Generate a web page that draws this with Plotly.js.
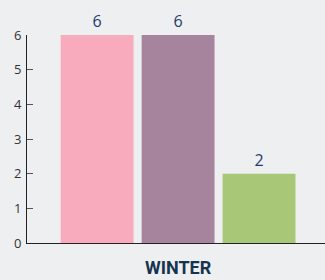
<!DOCTYPE html>
<html><head><meta charset="utf-8">
<script src="https://cdn.plot.ly/plotly-3.0.1.min.js"></script>
<style>html,body{margin:0;padding:0;background:#eeeff1;}#c{width:325px;height:280px;}</style>
</head><body><div id="c"></div>
<script>
const categories = ['WINTER'];
const seriesA = [6];
const seriesB = [6];
const seriesC = [2];
const colors = ['#f7abbc', '#a6849e', '#a8c878'];
const series = [seriesA, seriesB, seriesC];
const traces = series.map((vals, i) => ({
  type: 'bar', x: categories, y: vals, marker: {color: colors[i]},
  text: vals.map(String), textposition: 'outside', cliponaxis: false,
  textfont: {family: 'Open Sans', size: 16, color: '#1f3d6b'}, hoverinfo: 'none'
}));
Plotly.newPlot('c', traces, {
  width: 325, height: 280,
  margin: {l: 27, r: 0, t: 35, b: 37},
  paper_bgcolor: '#eeeff1', plot_bgcolor: '#eeeff1',
  barmode: 'group', bargap: 0.185, bargroupgap: 0.1,
  showlegend: false,
  xaxis: {range: [-0.507, 0.493], showline: true, linecolor: '#222', linewidth: 1, ticks: '', ticklabelstandoff: 8,
    tickfont: {family: 'Roboto', size: 18, color: '#17344f', weight: 'bold'}, fixedrange: true},
  yaxis: {range: [0, 6], dtick: 1, showgrid: false, zeroline: false, showline: true,
    linecolor: '#222', linewidth: 1, ticks: 'inside', ticklen: 6, tickcolor: '#555',
    ticklabelstandoff: 2,
    tickfont: {family: 'Open Sans', size: 13, color: '#333'}, fixedrange: true}
}, {staticPlot: true});
</script></body></html>
